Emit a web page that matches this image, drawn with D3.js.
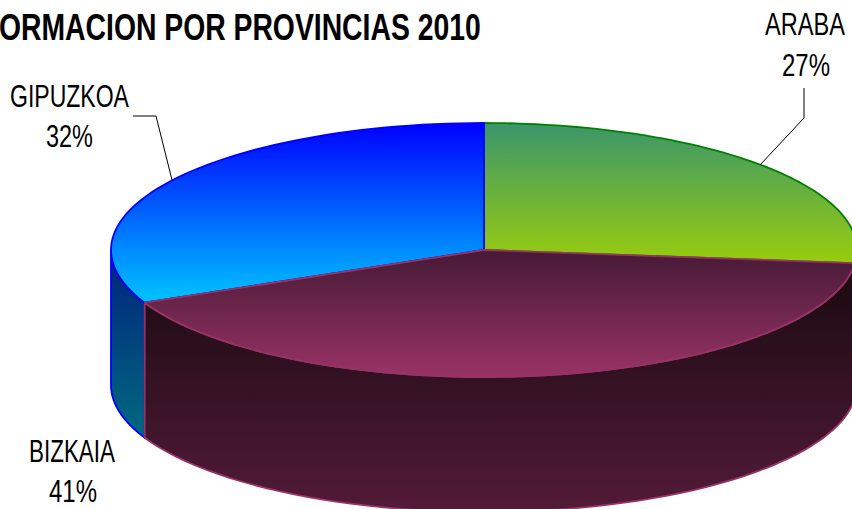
<!DOCTYPE html>
<html><head><meta charset="utf-8">
<script src="https://cdn.jsdelivr.net/npm/d3@7"></script>
<style>html,body{margin:0;padding:0;background:#fff;overflow:hidden}svg{display:block}text{font-family:"Liberation Sans",Arial,sans-serif;fill:#000}</style>
</head><body><svg id="c" width="852" height="509"></svg>
<script>
const categories = ["ARABA","BIZKAIA","GIPUZKOA"];
const values = [26.6,41.45,31.75];
const titleText = "ORMACION POR PROVINCIAS 2010";

const W=852,H=509;
const svg=d3.select("#c").attr("viewBox",`0 0 ${W} ${H}`);
const cx=484,cy=250,rx=373,ry=127,depth=135;
const sx=d3.scaleLinear().domain([-1,1]).range([cx-rx,cx+rx]);
const sy=d3.scaleLinear().domain([-1,1]).range([cy-ry,cy+ry]);
const pie=d3.pie().sort(null).startAngle(0).endAngle(2*Math.PI);
const arcs=pie(values);
const styles=[
 {stroke:"#008000",top:["#3a966c","#98cc0e"],y:[123,262],side:["#000","#000"],sy:[262,262]},
 {stroke:"#993366",top:["#471a36","#993366"],y:[252,377],side:["#180a10","#521a38"],sy:[262,510]},
 {stroke:"#0000ff",top:["#0000ff","#00c4ff"],y:[123,302],side:["#00207c","#006a80"],sy:[250,437]}
];
const defs=svg.append("defs");
function grad(id,c,y){
  const g=defs.append("linearGradient").attr("id",id).attr("gradientUnits","userSpaceOnUse")
    .attr("x1",0).attr("x2",0).attr("y1",y[0]).attr("y2",y[1]);
  g.append("stop").attr("offset",0).attr("stop-color",c[0]);
  g.append("stop").attr("offset",1).attr("stop-color",c[1]);
}
styles.forEach((s,i)=>{grad("t"+i,s.top,s.y);grad("s"+i,s.side,s.sy);});
const pt=(a,d=0)=>[sx(Math.sin(a)),sy(-Math.cos(a))+d];
function samples(a0,a1){return d3.range(0,61).map(i=>a0+(a1-a0)*i/60);}
const line=d3.line();
const drawOrder=[0,2,1];
// side walls: only the front half of the rim (angles PI/2..3PI/2)
drawOrder.forEach(i=>{
  const d=arcs[i];
  const a0=Math.max(d.startAngle,Math.PI/2),a1=Math.min(d.endAngle,3*Math.PI/2);
  if(a1<=a0) return;
  const upper=samples(a0,a1).map(a=>pt(a));
  const lower=samples(a1,a0).map(a=>pt(a,depth));
  svg.append("path").attr("d",line(upper.concat(lower))+"Z")
    .attr("fill",`url(#s${i})`).attr("stroke",styles[i].stroke).attr("stroke-width",1.8).attr("stroke-linejoin","round");
});
// top faces
drawOrder.forEach(i=>{
  const d=arcs[i];
  const rim=samples(d.startAngle,d.endAngle).map(a=>pt(a));
  svg.append("path").attr("d",line([[sx(0),sy(0)]].concat(rim))+"Z")
    .attr("fill",`url(#t${i})`).attr("stroke",styles[i].stroke).attr("stroke-width",1.8).attr("stroke-linejoin","round");
});
// leader lines
const leaders=[[[804,88],[804,118],[760,165]],null,[[133,116],[156,116],[172,180]]];
leaders.forEach(l=>{ if(l) svg.append("path").attr("d",line(l)).attr("fill","none").attr("stroke","#000").attr("stroke-width",1);});
// text squeezed horizontally to the reference's condensed look
function squeezed(s,x,y,w,size,weight){
  const t=svg.append("text").attr("font-size",size).attr("font-weight",weight).text(s);
  const n=t.node().getComputedTextLength();
  t.attr("transform",`translate(${x},${y}) scale(${w/n},1)`);
}
const pct=d3.format(".0f");
const labelPos=[[765,35,80,782,76,48],[29,462,86,49,502,48],[10,107,119,46,147,47]];
categories.forEach((c,i)=>{
  const p=labelPos[i];
  squeezed(c,p[0],p[1],p[2],31,"normal");
  squeezed(pct(values[i])+"%",p[3],p[4],p[5],31,"normal");
});
squeezed(titleText,-1,40,482,37,"bold");
</script></body></html>
